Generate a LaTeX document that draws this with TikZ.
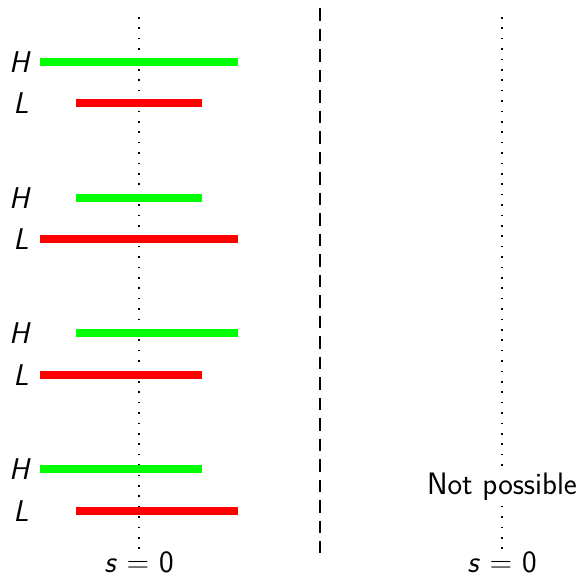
\documentclass[tikz,border=0pt]{standalone}
\usepackage{fontspec}
\begin{document}
\begin{tikzpicture}[x=1pt,y=-1pt,
  lbl/.style={font=\fontsize{30}{35}\selectfont\sffamily\itshape, inner sep=0pt},
  txt/.style={font=\fontsize{31}{36}\selectfont\sffamily, inner sep=0pt},
  hbar/.style={draw=green, line width=7.5pt},
  lbar/.style={draw=red, line width=7.5pt},
  axis/.style={line width=1.5pt, dash pattern=on 1.5pt off 8.9pt},
  divider/.style={line width=2pt, dash pattern=on 12.5pt off 8pt}]
\useasboundingbox (0,0) rectangle (579,579);

% s = 0 reference lines
\coordinate (la) at (139,17);
\coordinate (lb) at (139,553);
\coordinate (ra) at (502,17);
\coordinate (rb) at (502,553);
\draw[axis] (la) -- (lb);
\draw[axis] (ra) -- (rb);

% divider between the two panels
\coordinate (da) at (320,8);
\coordinate (db) at (320,553);
\draw[divider] (da) -- (db);

% group 1
\coordinate (h1a) at (40,62);  \coordinate (h1b) at (238,62);
\coordinate (l1a) at (76,103); \coordinate (l1b) at (202,103);
\draw[hbar] (h1a) -- (h1b);
\draw[lbar] (l1a) -- (l1b);
\node[lbl] (H1) at (19,62) {H};
\node[lbl] (L1) at (21,103) {L};

% group 2
\coordinate (h2a) at (76,198); \coordinate (h2b) at (202,198);
\coordinate (l2a) at (40,239); \coordinate (l2b) at (238,239);
\draw[hbar] (h2a) -- (h2b);
\draw[lbar] (l2a) -- (l2b);
\node[lbl] (H2) at (19,198) {H};
\node[lbl] (L2) at (21,239) {L};

% group 3
\coordinate (h3a) at (76,333); \coordinate (h3b) at (238,333);
\coordinate (l3a) at (40,375); \coordinate (l3b) at (202,375);
\draw[hbar] (h3a) -- (h3b);
\draw[lbar] (l3a) -- (l3b);
\node[lbl] (H3) at (19,333) {H};
\node[lbl] (L3) at (21,375) {L};

% group 4
\coordinate (h4a) at (40,469); \coordinate (h4b) at (202,469);
\coordinate (l4a) at (76,511); \coordinate (l4b) at (238,511);
\draw[hbar] (h4a) -- (h4b);
\draw[lbar] (l4a) -- (l4b);
\node[lbl] (H4) at (19,469) {H};
\node[lbl] (L4) at (21,511) {L};

% right panel note
\node[txt, fill=white, inner sep=3pt] (np) at (502,487) {Not possible};

% axis labels
\node[txt] (s1) at (139,562) {\textit{s} = 0};
\node[txt] (s2) at (502,562) {\textit{s} = 0};
\end{tikzpicture}
\end{document}
